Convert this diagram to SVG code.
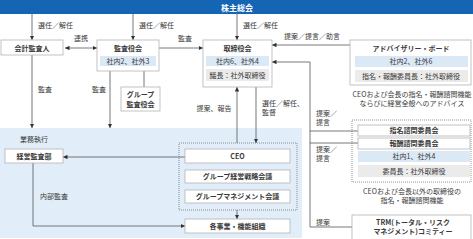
<svg xmlns="http://www.w3.org/2000/svg" width="473" height="239" viewBox="0 0 473 239">
<defs>
<marker id="ah" viewBox="0 0 6 6" refX="6" refY="3" markerUnits="userSpaceOnUse" markerWidth="4.5" markerHeight="4.5" orient="auto-start-reverse"><path d="M0,0 L6,3 L0,6 z" fill="#333"/></marker>
</defs>
<style>
text{font-family:"Noto Sans CJK JP","Noto Sans",sans-serif;font-size:7px;fill:#3a3a3a}
.b{font-weight:bold}
.c{text-anchor:middle}
.box{fill:#fff;stroke:#b3b3b3;stroke-width:0.8}
.blue{fill:#dbe8f5}
.gray{fill:#ebebeb}
.ln{stroke:#555;stroke-width:0.8;fill:none}
.arr{marker-end:url(#ah)}
.dot{fill:none;stroke:#666;stroke-width:0.7;stroke-dasharray:1 1}
</style>
<rect width="473" height="239" fill="#fff"/>
<rect x="0" y="128" width="302" height="110" fill="#e1edf8"/>
<text x="20" y="142">業務執行</text>

<g id="shareholders">
<rect x="0" y="0" width="473" height="14" fill="#1565b5"/>
<text x="237" y="10.5" class="b c" style="fill:#fff;font-size:8px">株主総会</text>
</g>

<g id="connectors">
<path class="ln arr" d="M32,14V40"/>
<path class="ln arr" d="M133,14V40"/>
<path class="ln arr" d="M237,14V40"/>
<path class="ln arr" d="M65,48H97" style="marker-start:url(#ah)"/>
<path class="ln arr" d="M159,48H203"/>
<path class="ln arr" d="M350,45H272"/>
<path class="ln arr" d="M310,227V62H272"/>
<path class="ln" d="M310,131H358M310,143H358M310,227H352"/>
<path class="ln arr" d="M32,55V128"/>
<path class="ln arr" d="M110,71V128"/>
<path class="ln" d="M144,71V87"/>
<path class="ln arr" d="M256,87V143"/>
<path class="ln arr" d="M237,143V87"/>
<path class="ln arr" d="M185,157H63"/>
<path class="ln arr" d="M33,163V226H185"/>
<path class="ln arr" d="M237,210V219"/>
<text x="38" y="28">選任／解任</text>
<text x="139" y="28">選任／解任</text>
<text x="243" y="28">選任／解任</text>
<text x="81" y="41" class="c">連携</text>
<text x="185" y="41" class="c">監査</text>
<text x="312" y="39" class="c">提案／提言／助言</text>
<text x="38" y="92">監査</text>
<text x="92" y="92">監査</text>
<text x="262" y="106">選任／解任、</text>
<text x="262" y="115">監督</text>
<text x="214" y="111" class="c">提案、報告</text>
<text x="40" y="199">内部監査</text>
<text x="316" y="116">提案／</text>
<text x="316" y="125">提言</text>
<text x="316" y="152">提案／</text>
<text x="316" y="161">提言</text>
<text x="316" y="225">提案</text>
</g>

<g id="auditor">
<rect class="box" x="1" y="40" width="62" height="15"/>
<text x="32" y="50.5" class="b c">会計監査人</text>
</g>

<g id="audit-board">
<rect class="box" x="97" y="40" width="62" height="31"/>
<text x="128" y="50.5" class="b c">監査役会</text>
<rect class="blue" x="100" y="56" width="56" height="10"/>
<text x="128" y="63.5" class="c">社内2、社外3</text>
</g>

<g id="group-audit">
<rect class="box" x="121" y="87" width="39" height="24"/>
<text x="140.5" y="96.5" class="b c">グループ</text>
<text x="140.5" y="106.5" class="b c">監査役会</text>
</g>

<g id="board">
<rect class="box" x="203" y="40" width="69" height="47"/>
<text x="237.5" y="50.5" class="b c">取締役会</text>
<rect class="blue" x="206" y="56" width="63" height="10"/>
<text x="237.5" y="63.5" class="c">社内6、社外4</text>
<rect class="gray" x="206" y="69" width="63" height="12"/>
<text x="237.5" y="77.5" class="c">議長：社外取締役</text>
</g>

<g id="advisory">
<rect class="box" x="350" y="40" width="121" height="45"/>
<text x="411" y="50.5" class="b c">アドバイザリー・ボード</text>
<rect class="blue" x="355" y="56" width="113" height="11"/>
<text x="411" y="64" class="c">社内2、社外6</text>
<rect class="gray" x="355" y="70" width="113" height="12"/>
<text x="411" y="78.5" class="c">指名・報酬委員長：社外取締役</text>
<text x="412" y="97" class="c">CEOおよび会長の指名・報酬諮問機能</text>
<text x="412" y="106" class="c">ならびに経営全般へのアドバイス</text>
</g>

<g id="committees">
<rect class="dot" x="352" y="120" width="119" height="62"/>
<rect class="box" x="358" y="125" width="112" height="11"/>
<text x="414" y="133" class="b c">指名諮問委員会</text>
<rect class="box" x="358" y="138" width="112" height="11"/>
<text x="414" y="146" class="b c">報酬諮問委員会</text>
<rect class="blue" x="358" y="151" width="112" height="11"/>
<text x="414" y="159" class="c">社内1、社外4</text>
<rect class="gray" x="358" y="165" width="112" height="12"/>
<text x="414" y="173.5" class="c">委員長：社外取締役</text>
<text x="412" y="194" class="c">CEOおよび会長以外の取締役の</text>
<text x="412" y="203" class="c">指名・報酬諮問機能</text>
</g>

<g id="trm">
<rect class="box" x="352" y="215" width="119" height="26"/>
<text x="413" y="224.5" class="b c">TRM(トータル・リスク</text>
<text x="413" y="234" class="b c">マネジメント)コミティー</text>
</g>

<g id="internal-audit">
<rect class="box" x="5" y="149" width="58" height="14"/>
<text x="34" y="158.5" class="b c">経営監査部</text>
</g>

<g id="ceo-group">
<rect class="dot" x="179" y="143" width="118" height="67"/>
<rect class="box" x="185" y="149" width="105" height="14"/>
<text x="237.5" y="158.5" class="b c">CEO</text>
<rect class="box" x="185" y="170" width="105" height="13"/>
<text x="237.5" y="179" class="b c">グループ経営戦略会議</text>
<rect class="box" x="185" y="190" width="105" height="13"/>
<text x="237.5" y="199" class="b c">グループマネジメント会議</text>
</g>

<g id="business">
<rect class="box" x="185" y="219" width="105" height="14"/>
<text x="237.5" y="228.5" class="b c">各事業・機能組織</text>
</g>
</svg>
